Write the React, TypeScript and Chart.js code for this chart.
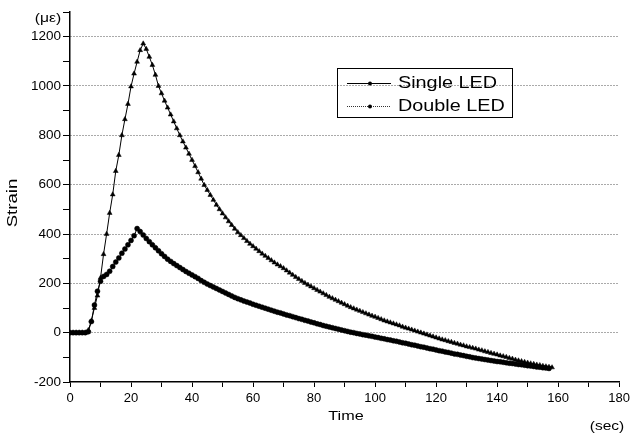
import React, { useEffect, useRef } from "react";
import { Chart, registerables } from "chart.js";

Chart.register(...registerables);

// time in seconds (sampling every second)
const times = [
  0, 1, 2, 3, 4, 5, 6, 7, 8, 9, 10, 11, 12, 13, 14, 15, 16, 17, 18, 19,
  20, 21, 22, 23, 24, 25, 26, 27, 28, 29, 30, 31, 32, 33, 34, 35, 36, 37, 38, 39,
  40, 41, 42, 43, 44, 45, 46, 47, 48, 49, 50, 51, 52, 53, 54, 55, 56, 57, 58, 59,
  60, 61, 62, 63, 64, 65, 66, 67, 68, 69, 70, 71, 72, 73, 74, 75, 76, 77, 78, 79,
  80, 81, 82, 83, 84, 85, 86, 87, 88, 89, 90, 91, 92, 93, 94, 95, 96, 97, 98, 99,
  100, 101, 102, 103, 104, 105, 106, 107, 108, 109, 110, 111, 112, 113, 114, 115, 116, 117, 118, 119,
  120, 121, 122, 123, 124, 125, 126, 127, 128, 129, 130, 131, 132, 133, 134, 135, 136, 137, 138, 139,
  140, 141, 142, 143, 144, 145, 146, 147, 148, 149, 150, 151, 152, 153, 154, 155, 156, 157, 158,
];

// Strain (με) – Single LED
const singleLED = [
  0, 0, 0, 0, 0, 0, 10, 48, 100, 150, 222, 318, 400, 485, 560, 655, 720, 800, 865, 927,
  998, 1050, 1098, 1145, 1172, 1150, 1118, 1085, 1045, 1000, 970, 940, 912, 884, 856, 828, 800, 775, 750, 725,
  700, 675, 650, 624, 598, 578, 558, 538, 518, 500, 483, 467, 451, 436, 421, 407, 395, 383, 371, 360,
  350, 340, 330, 320, 311, 302, 293, 284, 276, 269, 261, 252, 243, 234, 225, 217, 209, 201, 194, 187,
  180, 173, 166, 159, 152, 145, 139, 133, 127, 121, 115, 109, 103, 98, 93, 88, 83, 78, 73, 68,
  64, 59, 54, 49, 45, 41, 37, 33, 29, 24, 20, 16, 12, 8, 4, 0, -4, -8, -12, -16,
  -20, -24, -28, -31, -35, -38, -42, -45, -49, -52, -56, -59, -62, -65, -69, -72, -76, -79, -83, -86,
  -89, -93, -96, -99, -103, -106, -110, -113, -116, -119, -122, -125, -127, -130, -132, -135, -137, -139, -141,
];

// Strain (με) – Double LED
const doubleLED = [
  0, 0, 0, 0, 0, 0, 4, 45, 112, 168, 208, 228, 236, 249, 268, 286, 303, 322, 339, 356,
  374, 393, 422, 410, 396, 382, 369, 356, 344, 332, 320, 309, 298, 289, 280, 272, 264, 256, 248, 241,
  234, 227, 220, 211, 204, 197, 191, 185, 179, 173, 167, 161, 155, 149, 143, 138, 133, 128, 124, 120,
  115, 111, 107, 103, 99, 95, 91, 87, 83, 80, 76, 72, 69, 65, 61, 57, 54, 50, 47, 43,
  40, 36, 33, 29, 26, 23, 20, 17, 14, 11, 8, 5, 2, 0, -3, -5, -8, -10, -13, -15,
  -18, -20, -23, -25, -28, -30, -33, -35, -38, -41, -43, -46, -49, -51, -54, -57, -59, -62, -65, -67,
  -70, -73, -75, -78, -80, -83, -86, -88, -91, -93, -96, -98, -101, -103, -105, -107, -109, -111, -113, -115,
  -117, -118, -120, -122, -124, -125, -127, -129, -130, -132, -134, -135, -137, -139, -140, -142, -143, -145,
];

const seriesNames = ["Single LED", "Double LED"];
const yTickLabels = [-200, 0, 200, 400, 600, 800, 1000, 1200];
const xTickLabels = [0, 20, 40, 60, 80, 100, 120, 140, 160, 180];
const yGridValues = [0, 200, 400, 600, 800, 1000, 1200];
const xTitle = "Time";
const xUnit = "(sec)";
const yTitle = "Strain";
const yUnit = "(\u03bc\u03b5)";

const FONT = '"Liberation Sans", Arial, Helvetica, sans-serif';

function drawText(
  ctx: CanvasRenderingContext2D,
  text: string,
  x: number,
  y: number,
  size: number,
  sx: number,
  align: CanvasTextAlign = "center",
  rot = 0
) {
  ctx.save();
  ctx.translate(x, y);
  if (rot) ctx.rotate(rot);
  ctx.scale(sx, 1);
  ctx.font = `${size}px ${FONT}`;
  ctx.textAlign = align;
  ctx.textBaseline = "middle";
  ctx.fillStyle = "#000";
  ctx.fillText(text, 0, 0);
  ctx.restore();
}

const annotations = {
  id: "annotations",
  afterDraw(chart: any) {
    const ctx: CanvasRenderingContext2D = chart.ctx;
    // axis titles
    drawText(ctx, yUnit, 48, 19, 12.5, 1.25);
    drawText(ctx, yTitle, 13, 203, 15.5, 1.2, "center", -Math.PI / 2);
    drawText(ctx, xTitle, 346, 416, 13.5, 1.2);
    drawText(ctx, xUnit, 607, 426, 13.5, 1.15);

    // legend box
    ctx.save();
    ctx.strokeStyle = "#000";
    ctx.lineWidth = 1;
    ctx.strokeRect(337.5, 68.5, 175, 49);
    const rows = [
      { y: 83, dash: [] as number[], color: "#000" },
      { y: 106, dash: [1, 1], color: "#333" },
    ];
    rows.forEach((r, i) => {
      ctx.save();
      ctx.strokeStyle = r.color;
      ctx.lineWidth = 1;
      ctx.setLineDash(r.dash);
      ctx.beginPath();
      ctx.moveTo(347, r.y + 0.5);
      ctx.lineTo(391, r.y + 0.5);
      ctx.stroke();
      ctx.restore();
      ctx.beginPath();
      ctx.fillStyle = "#000";
      ctx.arc(370, r.y + 0.5, 2, 0, Math.PI * 2);
      ctx.fill();
      drawText(ctx, seriesNames[i], 398, r.y, 16.5, 1.2, "left");
    });
    ctx.restore();
  },
};

export default function App() {
  const ref = useRef<HTMLCanvasElement | null>(null);

  useEffect(() => {
    if (!ref.current) return;
    const chart = new Chart(ref.current, {
      type: "line",
      data: {
        datasets: [
          {
            label: seriesNames[0],
            data: singleLED.map((v, i) => ({ x: times[i], y: v })),
            borderColor: "#000",
            borderWidth: 1,
            pointStyle: "triangle",
            pointRadius: 2.8,
            pointBackgroundColor: "#000",
            pointBorderColor: "#000",
            pointBorderWidth: 0.5,
            tension: 0,
          },
          {
            label: seriesNames[1],
            data: doubleLED.map((v, i) => ({ x: times[i], y: v })),
            borderColor: "#000",
            borderWidth: 1,
            pointStyle: "circle",
            pointRadius: 2.5,
            pointBackgroundColor: "#000",
            pointBorderColor: "#000",
            pointBorderWidth: 0.5,
            tension: 0,
          },
        ],
      },
      options: {
        responsive: false,
        animation: false,
        layout: { padding: { top: 12, right: 9, left: 0, bottom: 0 } },
        plugins: { legend: { display: false }, tooltip: { enabled: false } },
        scales: {
          x: {
            type: "linear",
            min: 0,
            max: 180,
            afterFit: (s: any) => {
              s.height = 52;
            },
            ticks: {
              stepSize: 10,
              autoSkip: false,
              maxRotation: 0,
              color: "#000",
              padding: 4,
              font: { family: FONT, size: 13 },
              callback: (v: any) => (xTickLabels.includes(Number(v)) ? String(v) : ""),
            },
            grid: {
              drawOnChartArea: false,
              color: "#000",
              tickColor: "#000",
              tickLength: 5,
            },
            border: { color: "#000", width: 1.5 },
          },
          y: {
            type: "linear",
            min: -200,
            max: 1300,
            afterFit: (s: any) => {
              s.width = 70;
            },
            ticks: {
              stepSize: 100,
              autoSkip: false,
              color: "#000",
              padding: 2,
              font: { family: FONT, size: 13.5 },
              callback: (v: any) => (yTickLabels.includes(Number(v)) ? String(v) : ""),
            },
            grid: {
              color: (c: any) =>
                c.tick && yGridValues.includes(Number(c.tick.value)) ? "#555555" : "rgba(0,0,0,0)",
              lineWidth: 1,
              tickColor: "#000",
              tickLength: 7,
            },
            border: { color: "#000", width: 1.5, dash: [1, 2] },
          },
        },
      },
      plugins: [annotations],
    });
    return () => chart.destroy();
  }, []);

  return (
    <div style={{ position: "absolute", left: 0, top: 0, width: 634, height: 434, background: "#fff" }}>
      <canvas ref={ref} width={634} height={434} />
    </div>
  );
}
